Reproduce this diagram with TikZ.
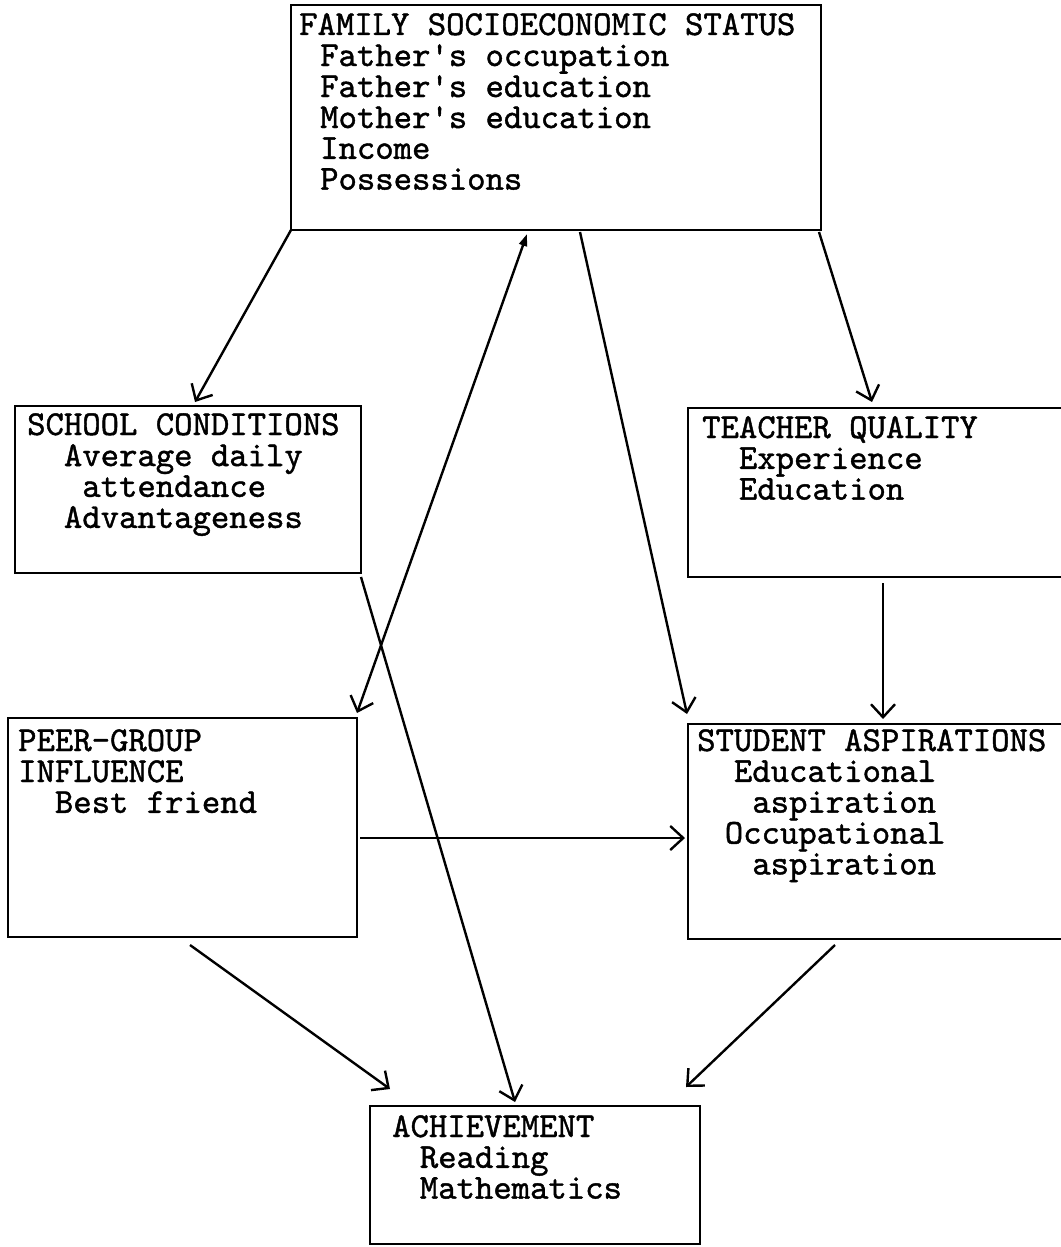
\documentclass[tikz,border=0pt]{standalone}
\usepackage{fontspec}
\newfontfamily\twfont{lmmono10-regular.otf}[FakeBold=1.2]
\usetikzlibrary{arrows.meta,calc}
\begin{document}
\begin{tikzpicture}[x=1pt,y=-1pt,
  box/.style={draw, line width=2.8pt, rectangle, anchor=north west, inner sep=0pt, outer sep=0pt},
  openbox/.style={rectangle, anchor=north west, inner sep=0pt, outer sep=0pt},
  edge3/.style={line width=2.8pt},
  lbl/.style={anchor=base west, inner sep=0pt, font=\twfont\fontsize{35}{30.8}\selectfont},
  conn/.style={line width=2.4pt, -{Straight Barb[length=13pt,width=24pt]}},
  bothconn/.style={line width=2.4pt, {Triangle[length=12pt,width=8pt]}-{Straight Barb[length=13pt,width=24pt]}},
]
\useasboundingbox (0,0) rectangle (1060,1247);

% boxes
\node[box, minimum width=530pt, minimum height=225pt] (fss) at (291,5) {};
\node[box, minimum width=346pt, minimum height=167pt] (sc) at (15,406) {};
\node[openbox, minimum width=380pt, minimum height=169pt] (tq) at (688,408) {};
\draw[edge3] (tq.north east) -- (tq.north west) -- (tq.south west) -- (tq.south east);
\node[box, minimum width=349pt, minimum height=219pt] (pg) at (8,718) {};
\node[openbox, minimum width=380pt, minimum height=215pt] (sa) at (688,724) {};
\draw[edge3] (sa.north east) -- (sa.north west) -- (sa.south west) -- (sa.south east);
\node[box, minimum width=330pt, minimum height=138pt] (ach) at (370,1106) {};

% texts
\node[lbl] (fsst) at (299,35) {\begin{tabular}[t]{@{}l@{}}FAMILY SOCIOECONOMIC STATUS\\
\hspace*{0.6em}Father's occupation\\
\hspace*{0.6em}Father's education\\
\hspace*{0.6em}Mother's education\\
\hspace*{0.6em}Income\\
\hspace*{0.6em}Possessions\end{tabular}};

\node[lbl] (sct) at (27,435) {\begin{tabular}[t]{@{}l@{}}SCHOOL CONDITIONS\\
\hspace*{1.05em}Average daily\\
\hspace*{1.575em}attendance\\
\hspace*{1.05em}Advantageness\end{tabular}};

\node[lbl] (tqt) at (702,438) {\begin{tabular}[t]{@{}l@{}}TEACHER QUALITY\\
\hspace*{1.05em}Experience\\
\hspace*{1.05em}Education\end{tabular}};

\node[lbl] (pgt) at (18,751) {\begin{tabular}[t]{@{}l@{}}PEER-GROUP\\
INFLUENCE\\
\hspace*{1.05em}Best friend\end{tabular}};

\node[lbl] (sat) at (697,751) {\begin{tabular}[t]{@{}l@{}}STUDENT ASPIRATIONS\\
\hspace*{1.05em}Educational\\
\hspace*{1.575em}aspiration\\
\hspace*{0.79em}Occupational\\
\hspace*{1.575em}aspiration\end{tabular}};

\node[lbl] (acht) at (392,1137) {\begin{tabular}[t]{@{}l@{}}ACHIEVEMENT\\
\hspace*{0.79em}Reading\\
\hspace*{0.79em}Mathematics\end{tabular}};

% connectors
\draw[conn] (fss.south west) -- ($(sc.north west)+(180,-4)$);
\draw[bothconn] ($(fss.south west)+(236,4)$) -- ($(pg.north east)+(0,-5)$);
\draw[conn] ($(fss.south west)+(289,2)$) -- ($(sa.north west)+(-1,-10)$);
\draw[conn] ($(fss.south east)+(-2,2)$) -- ($(tq.north west)+(184,-6)$);
\draw[conn] ($(sc.south east)+(0,4)$) -- ($(ach.north west)+(145,-4)$);
\draw[conn] ($(tq.south west)+(195,6)$) -- ($(sa.north west)+(195,-5)$);
\draw[conn] ($(pg.north east)+(3,120)$) -- ($(sa.north west)+(-3,114)$);
\draw[conn] ($(pg.south west)+(182,8)$) -- ($(ach.north west)+(20,-17)$);
\draw[conn] ($(sa.south west)+(147,6)$) -- ($(ach.north east)+(-14,-19)$);
\end{tikzpicture}
\end{document}
